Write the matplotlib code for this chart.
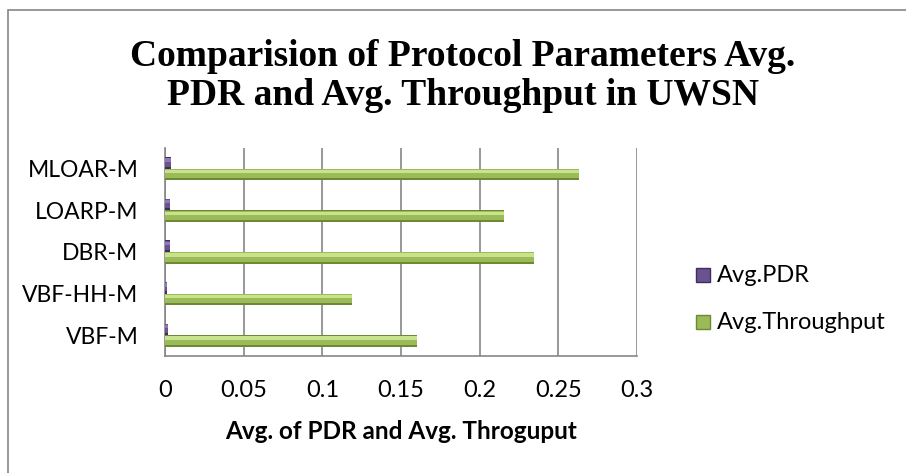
import matplotlib
matplotlib.use("Agg")
import matplotlib.pyplot as plt
from matplotlib.patches import Rectangle
import numpy as np

protocols = ["VBF-M", "VBF-HH-M", "DBR-M", "LOARP-M", "MLOAR-M"]
avg_pdr = [0.0017, 0.001, 0.003, 0.003, 0.0036]
avg_throughput = [0.160, 0.119, 0.2347, 0.2157, 0.2634]
x_ticks = [0, 0.05, 0.1, 0.15, 0.2, 0.25, 0.3]
x_tick_labels = ["0", "0.05", "0.1", "0.15", "0.2", "0.25", "0.3"]

label_font = ["Lato", "DejaVu Sans"]

fig = plt.figure(figsize=(9.06, 4.73), dpi=100)
fig.patches.append(Rectangle((8 / 906, -0.1), 1.2, 1 - 10 / 473 + 0.1,
                             transform=fig.transFigure, fill=False,
                             edgecolor="#868686", linewidth=1.2))

ax = fig.add_axes([165 / 906, 1 - 356 / 473, 472 / 906, 208 / 473])

y = np.arange(len(protocols))
h = 0.28


def shaded_barh(ypos, vals, dark, mid, light):
    # fake the Excel 3D look: dark base, mid body, light highlight strip
    ax.barh(ypos, vals, height=h, color=dark, zorder=3)
    ax.barh(ypos + 0.02, vals, height=h * 0.78, color=mid, zorder=4)
    ax.barh(ypos + 0.07, vals, height=h * 0.3, color=light, zorder=5)


shaded_barh(y + h / 2, avg_pdr, "#3f2d5c", "#6a5290", "#8f78b5")
shaded_barh(y - h / 2, avg_throughput, "#6b8a33", "#9bbb59", "#c9e38c")

ax.set_xlim(0, 0.3)
ax.set_ylim(-0.5, len(protocols) - 0.5)
ax.set_xticks(x_ticks)
ax.set_xticklabels(x_tick_labels, family=label_font, fontsize=17)
ax.set_yticks(y)
ax.set_yticklabels(protocols, family=label_font, fontsize=16.5)
ax.tick_params(axis="x", length=0, pad=17)
ax.tick_params(axis="y", length=0, pad=19)
ax.xaxis.grid(True, color="#868686", linewidth=1.2, zorder=0)
ax.set_axisbelow(True)
for s in ["top", "right"]:
    ax.spines[s].set_visible(False)
for s in ["left", "bottom"]:
    ax.spines[s].set_color("#868686")
    ax.spines[s].set_linewidth(1.2)

ax.set_xlabel("Avg. of PDR and Avg. Throguput", family=label_font,
              fontsize=17.5, fontweight="bold")
ax.xaxis.set_label_coords(0.5, (356 - 431) / 208)
ax.xaxis.label.set_va("center")

fig.text(463 / 906, 1 - 76 / 473,
         "Comparision of Protocol Parameters Avg.\nPDR and Avg. Throughput in UWSN",
         ha="center", va="center", family="Liberation Serif",
         fontweight="bold", fontsize=27, linespacing=1.12)

# legend drawn by hand
legend_items = [("Avg.PDR", "#6a5290", "#3f2d5c", 275),
                ("Avg.Throughput", "#9bbb59", "#6b8a33", 322)]
for name, fc, ec, ypix in legend_items:
    fig.patches.append(Rectangle((696 / 906, 1 - (ypix + 7) / 473),
                                 14 / 906, 14 / 473,
                                 transform=fig.transFigure,
                                 facecolor=fc, edgecolor=ec, linewidth=1))
    fig.text(717 / 906, 1 - ypix / 473, name, ha="left", va="center",
             family=label_font, fontsize=17)

fig.savefig("out.png", dpi=100)
